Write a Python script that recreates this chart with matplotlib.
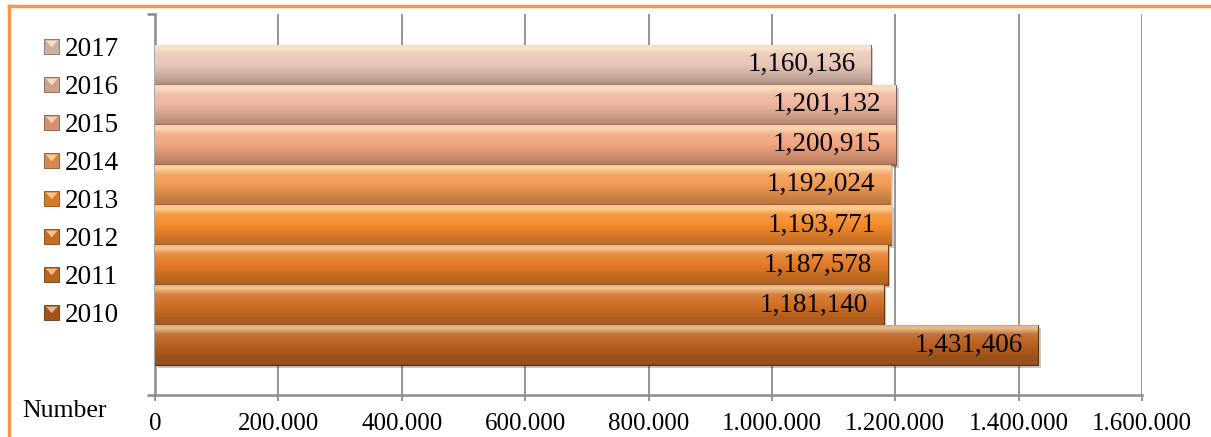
import numpy as np
import matplotlib
matplotlib.use("Agg")
import matplotlib.pyplot as plt
import matplotlib.patches as mpatches
import matplotlib.patheffects as pe
from matplotlib.colors import to_rgb, LinearSegmentedColormap
from matplotlib.legend_handler import HandlerBase
from matplotlib.ticker import FuncFormatter, MultipleLocator
from matplotlib.lines import Line2D

# ---- data ----
years = ["2010", "2011", "2012", "2013", "2014", "2015", "2016", "2017"]
values = [1431406, 1181140, 1187578, 1193771, 1192024, 1200915, 1201132, 1160136]
bar_colors = ["#B9601F", "#D27025", "#E37C27", "#F68C2D", "#F29A52",
              "#F1A47F", "#EEB69E", "#E9C6B8"]
x_axis_label = "Number"

plt.rcParams["font.family"] = ["Liberation Serif", "DejaVu Serif"]

W, H = 1211, 437
fig = plt.figure(figsize=(W / 100, H / 100), dpi=100)
ax = fig.add_axes([155 / W, 42 / H, (1142 - 155) / W, 381 / H])


def mix(c1, c2, f):
    a = np.array(to_rgb(c1)); b = np.array(to_rgb(c2))
    return tuple(a * (1 - f) + b * f)


def gradient_cmap(c):
    stops = [
        (0.00, mix(c, "#5a3a2a", 0.55)),
        (0.05, mix(c, "#5a3a2a", 0.35)),
        (0.15, mix(c, "#000000", 0.18)),
        (0.50, c),
        (0.75, mix(c, "#ffffff", 0.12)),
        (0.90, mix(c, "#fff4c8", 0.65)),
        (0.95, mix(c, "#fff8e0", 0.55)),
        (1.00, mix(c, "#ffffff", 0.30)),
    ]
    return LinearSegmentedColormap.from_list("g", stops)


ypos = np.arange(len(years))
bh = 1.0
grad = np.linspace(0, 1, 256).reshape(-1, 1)
for y, v, c in zip(ypos, values, bar_colors):
    bar = ax.barh(y, v, height=bh, color=c, edgecolor=mix(c, "#000000", 0.5),
                  linewidth=0.8, zorder=3)[0]
    bar.set_path_effects([pe.SimplePatchShadow(offset=(2, -2), alpha=0.25), pe.Normal()])
    im = ax.imshow(grad, extent=[0, v, y - bh / 2, y + bh / 2], origin="lower",
                   aspect="auto", cmap=gradient_cmap(c), zorder=4,
                   interpolation="bilinear")
    im.set_clip_path(bar)
    ax.annotate(f"{v:,}", xy=(v, y), xytext=(-11, 0), textcoords="offset points",
                ha="right", va="center", fontsize=19.5, color="black", zorder=6)

ax.set_xlim(0, 1600000)
ax.set_ylim(-1.25, 8.27)
ax.set_aspect("auto")

ax.xaxis.set_major_locator(MultipleLocator(200000))
ax.xaxis.set_major_formatter(FuncFormatter(lambda x, p: f"{x:,.0f}".replace(",", ".")))
ax.grid(axis="x", color="#8c8c8c", linewidth=1.3, zorder=0)
ax.set_axisbelow(True)

for s in ["top", "right"]:
    ax.spines[s].set_visible(False)
for s in ["left", "bottom"]:
    ax.spines[s].set_color("#8c8c8c")
    ax.spines[s].set_linewidth(1.8)

ax.set_yticks([-1.25, 8.27])
ax.set_yticklabels([])
ax.tick_params(axis="y", length=6, width=1.8, color="#8c8c8c", direction="out")
ax.tick_params(axis="x", length=4, width=1.3, color="#8c8c8c", direction="out",
               labelsize=18, pad=9)

fig.text(22 / W, 1 - 411 / H, x_axis_label, fontsize=18.5, ha="left", va="center")


class GradHandler(HandlerBase):
    def create_artists(self, legend, orig_handle, xdescent, ydescent, width, height,
                       fontsize, trans):
        c = orig_handle.get_facecolor()
        s = min(width, height)
        x0 = -xdescent + (width - s) / 2
        y0 = -ydescent + (height - s) / 2
        sq = mpatches.Rectangle((x0, y0), s, s, facecolor=mix(c[:3], "#000000", 0.12),
                                edgecolor=mix(c[:3], "#000000", 0.45), linewidth=0.6,
                                transform=trans)
        tri = mpatches.Polygon([(x0 + s * 0.12, y0 + s * 0.88), (x0 + s * 0.88, y0 + s * 0.88),
                                (x0 + s * 0.5, y0 + s * 0.45)],
                               facecolor=mix(c[:3], "#fff2d0", 0.6), edgecolor="none",
                               transform=trans)
        return [sq, tri]


handles = [mpatches.Patch(facecolor=c, label=yv) for yv, c in zip(years, bar_colors)][::-1]
fig.legend(handles=handles, loc="upper left", bbox_to_anchor=(44 / W, 1 - 37 / H),
           frameon=False, fontsize=19.5, handlelength=0.57, handleheight=0.57,
           handletextpad=0.2, labelspacing=0.48, borderpad=0, borderaxespad=0,
           handler_map={mpatches.Patch: GradHandler()})

# outer orange frame (top and left visible)
fig.add_artist(Line2D([9 / W, 1], [1 - 6 / H, 1 - 6 / H], transform=fig.transFigure,
                      color="#F79646", linewidth=2.5))
fig.add_artist(Line2D([9 / W, 9 / W], [0, 1 - 6 / H], transform=fig.transFigure,
                      color="#F79646", linewidth=2.5))

fig.savefig("out.png", dpi=100)
